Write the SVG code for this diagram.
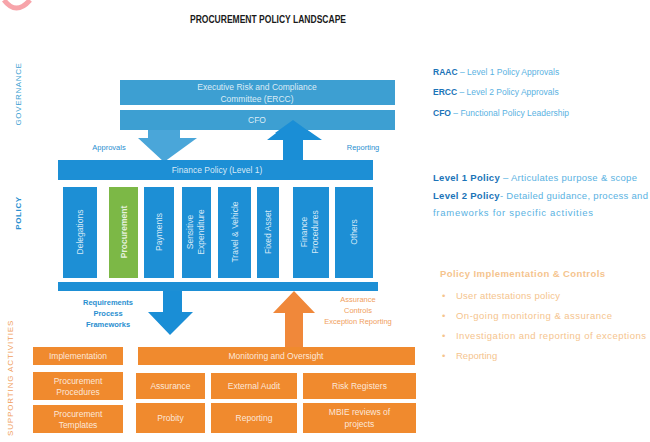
<svg xmlns="http://www.w3.org/2000/svg" width="650" height="442" viewBox="0 0 650 442">
  <style>
    text { font-family: "Liberation Sans", Arial, sans-serif; }
    .title { font-size: 10px; font-weight: bold; fill: #1a1a1a; }
    .side { font-size: 8px; letter-spacing: 0.6px; }
    .gov { fill: #3d9fd2; }
    .pol { fill: #1d8fd5; }
    .proc { fill: #7cb846; }
    .act { fill: #f08a2e; }
    .boxtxt { font-size: 8.5px; fill: #ffffff; fill-opacity: 0.82; text-anchor: middle; }
    .blue { font-size: 7.5px; fill: #2a8fd0; text-anchor: middle; }
    .orng { font-size: 7.5px; fill: #f0a060; text-anchor: middle; }
    .key { font-size: 8.5px; fill: #5ab2e2; }
    .keyp { font-size: 9.5px; fill: #5ab2e2; }
    .keyb { font-weight: bold; fill: #1b74b8; }
    .ctl { font-size: 9.5px; fill: #f5c48e; }
  </style>

  <!-- corner mark -->
  <path d="M4,0 Q16,16 30,0" fill="none" stroke="#f7a4aa" stroke-width="5"/>

  <text class="title" x="268" y="23" text-anchor="middle" textLength="156" lengthAdjust="spacingAndGlyphs">PROCUREMENT POLICY LANDSCAPE</text>

  <!-- section labels -->
  <text class="side" fill="#3d9fd2" transform="translate(21,94) rotate(-90)" text-anchor="middle">GOVERNANCE</text>
  <text class="side" fill="#2a8fd0" font-weight="bold" transform="translate(21,213) rotate(-90)" text-anchor="middle">POLICY</text>
  <text class="side" fill="#f0a060" transform="translate(13,378) rotate(-90)" text-anchor="middle" textLength="116">SUPPORTING ACTIVITIES</text>

  <!-- connectors -->
  <g id="connectors">
    <polygon points="148,130 180,130 180,138 197,138 164,162 138,138 148,138" fill="#4aa6d9"/>
    <polygon points="283,160 303,160 303,140 322,140 293,120 267,140 283,140" fill="#1a8ed6"/>
    <polygon points="163,290 182,290 182,312 193,312 170,335 148,312 163,312" fill="#1a8ed6"/>
    <polygon points="285,347 303,347 303,313 315,313 294,291 273,313 285,313" fill="#f0883a"/>
    <text class="blue" x="109" y="150">Approvals</text>
    <text class="blue" x="363" y="150">Reporting</text>
    <text class="blue" font-weight="bold" x="108" y="305">Requirements</text>
    <text class="blue" font-weight="bold" x="108" y="316">Process</text>
    <text class="blue" font-weight="bold" x="108" y="327">Frameworks</text>
    <text class="orng" x="358" y="302">Assurance</text>
    <text class="orng" x="358" y="313">Controls</text>
    <text class="orng" x="358" y="324">Exception Reporting</text>
  </g>

  <!-- governance -->
  <g id="ercc">
    <rect class="gov" x="120" y="80" width="275" height="25"/>
    <text class="boxtxt" x="257" y="90">Executive Risk and Compliance</text>
    <text class="boxtxt" x="257" y="102">Committee (ERCC)</text>
  </g>
  <g id="cfo">
    <rect class="gov" x="120" y="110" width="275" height="20"/>
    <text class="boxtxt" x="257" y="123">CFO</text>
  </g>
  <!-- arrow tip sits over the CFO box -->
  <polygon points="293,120 311,133 275,133" fill="#1a8ed6"/>

  <!-- policy -->
  <g id="finance-policy">
    <rect class="pol" x="58" y="160" width="315" height="20"/>
    <text class="boxtxt" x="217" y="173">Finance Policy (Level 1)</text>
  </g>
  <g id="delegations">
    <rect class="pol" x="63" y="187" width="34" height="91"/>
    <text class="boxtxt" transform="translate(83,232) rotate(-90)">Delegations</text>
  </g>
  <g id="procurement">
    <rect class="proc" x="109" y="187" width="29" height="91"/>
    <text class="boxtxt" font-weight="bold" transform="translate(126.5,232) rotate(-90)">Procurement</text>
  </g>
  <g id="payments">
    <rect class="pol" x="144" y="187" width="30" height="91"/>
    <text class="boxtxt" transform="translate(162,232) rotate(-90)">Payments</text>
  </g>
  <g id="sensitive-expenditure">
    <rect class="pol" x="182" y="187" width="29" height="91"/>
    <text class="boxtxt" transform="translate(193,232) rotate(-90)">Sensitive</text>
    <text class="boxtxt" transform="translate(204,232) rotate(-90)">Expenditure</text>
  </g>
  <g id="travel-vehicle">
    <rect class="pol" x="218" y="187" width="33" height="91"/>
    <text class="boxtxt" transform="translate(237.5,232) rotate(-90)">Travel &amp; Vehicle</text>
  </g>
  <g id="fixed-asset">
    <rect class="pol" x="257" y="187" width="22" height="91"/>
    <text class="boxtxt" transform="translate(271,232) rotate(-90)">Fixed Asset</text>
  </g>
  <g id="finance-procedures">
    <rect class="pol" x="293" y="187" width="36" height="91"/>
    <text class="boxtxt" transform="translate(307,232) rotate(-90)">Finance</text>
    <text class="boxtxt" transform="translate(318,232) rotate(-90)">Procedures</text>
  </g>
  <g id="others">
    <rect class="pol" x="335" y="187" width="38" height="91"/>
    <text class="boxtxt" transform="translate(357,232) rotate(-90)">Others</text>
  </g>
  <g id="policy-base">
    <rect class="pol" x="58" y="282" width="320" height="9"/>
  </g>

  <!-- supporting activities -->
  <g id="implementation">
    <rect class="act" x="33" y="347" width="90" height="18"/>
    <text class="boxtxt" x="78" y="359">Implementation</text>
  </g>
  <g id="monitoring">
    <rect class="act" x="138" y="347" width="277" height="18"/>
    <text class="boxtxt" x="276" y="359">Monitoring and Oversight</text>
  </g>
  <g id="procurement-procedures">
    <rect class="act" x="33" y="372" width="90" height="28"/>
    <text class="boxtxt" x="78" y="384">Procurement</text>
    <text class="boxtxt" x="78" y="395">Procedures</text>
  </g>
  <g id="procurement-templates">
    <rect class="act" x="33" y="405" width="90" height="28"/>
    <text class="boxtxt" x="78" y="417">Procurement</text>
    <text class="boxtxt" x="78" y="428">Templates</text>
  </g>
  <g id="assurance">
    <rect class="act" x="136" y="373" width="69" height="26"/>
    <text class="boxtxt" x="170.5" y="389">Assurance</text>
  </g>
  <g id="external-audit">
    <rect class="act" x="211" y="373" width="86" height="26"/>
    <text class="boxtxt" x="254" y="389">External Audit</text>
  </g>
  <g id="risk-registers">
    <rect class="act" x="303" y="373" width="113" height="26"/>
    <text class="boxtxt" x="359.5" y="389">Risk Registers</text>
  </g>
  <g id="probity">
    <rect class="act" x="136" y="403" width="69" height="30"/>
    <text class="boxtxt" x="170.5" y="421">Probity</text>
  </g>
  <g id="reporting">
    <rect class="act" x="211" y="403" width="86" height="30"/>
    <text class="boxtxt" x="254" y="421">Reporting</text>
  </g>
  <g id="mbie-reviews">
    <rect class="act" x="303" y="403" width="113" height="30"/>
    <text class="boxtxt" x="359.5" y="415">MBIE reviews of</text>
    <text class="boxtxt" x="359.5" y="427">projects</text>
  </g>

  <!-- key: governance -->
  <g id="key-governance">
    <text class="key" x="433" y="75"><tspan class="keyb">RAAC</tspan> – Level 1 Policy Approvals</text>
    <text class="key" x="433" y="95"><tspan class="keyb">ERCC</tspan> – Level 2 Policy Approvals</text>
    <text class="key" x="433" y="116"><tspan class="keyb">CFO</tspan> – Functional Policy Leadership</text>
  </g>

  <!-- key: policy levels -->
  <g id="key-policy">
    <text class="keyp" x="433" y="181" textLength="204"><tspan class="keyb">Level 1 Policy</tspan> – Articulates purpose &amp; scope</text>
    <text class="keyp" x="433" y="199" textLength="215"><tspan class="keyb">Level 2 Policy</tspan>- Detailed guidance, process and</text>
    <text class="keyp" x="433" y="216" textLength="160">frameworks for specific activities</text>
  </g>

  <!-- key: implementation and controls -->
  <g id="key-controls">
    <text class="ctl" font-weight="bold" fill="#e2a862" x="440" y="277" textLength="165">Policy Implementation &amp; Controls</text>
    <text class="ctl" x="442" y="299">•</text>
    <text class="ctl" x="456" y="299" textLength="104">User attestations policy</text>
    <text class="ctl" x="442" y="319">•</text>
    <text class="ctl" x="456" y="319" textLength="156">On-going monitoring &amp; assurance</text>
    <text class="ctl" x="442" y="339">•</text>
    <text class="ctl" x="456" y="339" textLength="190">Investigation and reporting of exceptions</text>
    <text class="ctl" x="442" y="359">•</text>
    <text class="ctl" x="456" y="359">Reporting</text>
  </g>
</svg>
